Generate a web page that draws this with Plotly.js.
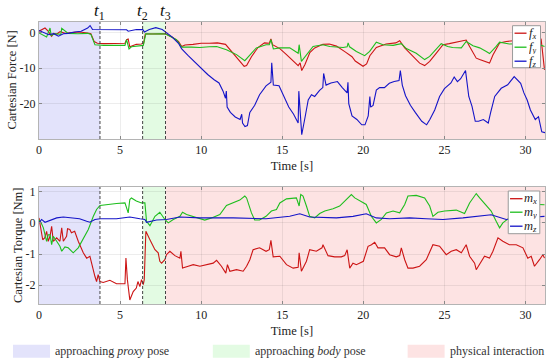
<!DOCTYPE html>
<html><head><meta charset="utf-8">
<script src="https://cdn.plot.ly/plotly-3.0.1.min.js"></script>
<style>html,body{margin:0;padding:0;background:#fff}</style>
</head><body><div id="chart" style="width:551px;height:363px"></div>
<script>
// ---------- data ----------
const timeTicks = [0, 5, 10, 15, 20, 25, 30];
const timeTickText = ['0', '5', '10', '15', '20', '25', '30'];
const forceTicks = [-20, -10, 0];
const forceTickText = ['-20', '-10', '0'];
const torqueTicks = [-2, -1, 0, 1];
const torqueTickText = ['-2', '-1', '0', '1'];
const yTitles = ['Cartesian Force [N]', 'Cartesian Torque [Nm]'];

const eventTimes = [3.76, 6.39, 7.8];
const eventLabels = ['<i>t</i><sub>1</sub>', '<i>t</i><sub>2</sub>', '<i>t</i><sub>3</sub>'];

const phaseStart = [0, 6.39, 7.8];
const phaseEnd = [3.76, 7.8, 31.2];
const phaseLabels = ['approaching <i>proxy</i> pose', 'approaching <i>body</i> pose', 'physical interaction'];

const forceNames = ['<i>f<sub>x</sub></i>', '<i>f<sub>y</sub></i>', '<i>f<sub>z</sub></i>'];
const torqueNames = ['<i>m<sub>x</sub></i>', '<i>m<sub>y</sub></i>', '<i>m<sub>z</sub></i>'];

const fxT = [0,0.2,0.37,0.55,0.78,0.9,1.1,1.3,1.6,2.0,2.5,3.0,3.2,3.4,3.6,4.0,4.5,5.0,5.3,5.4,5.5,5.6,5.8,6.0,6.3,6.45,6.55,7.0,7.5,7.8,8.2,8.6,8.8,9.0,9.5,10.0,10.5,11.0,11.5,11.9,12.3,12.65,12.8,13.1,13.5,13.9,14.2,14.3,14.4,14.85,15.26,15.67,15.98,16.1,16.2,16.4,16.7,17.0,17.3,17.5,17.9,18.34,18.9,19.3,19.5,19.98,20.2,20.4,20.8,21.4,22.0,22.24,22.55,23.06,23.47,23.78,24.09,24.5,24.91,25.3,25.73,26.14,26.34,26.55,26.76,26.96,27.17,27.78,27.99,28.4,28.81,29.42,30.04,30.66,30.96,31.17];
const fxV = [0.4,0.8,1.3,0.5,-1.0,-0.2,-0.4,0.3,-0.2,0.0,0.2,-0.1,-0.3,-2.5,-3.0,-3.1,-3.0,-3.1,-3.0,-2.0,-1.8,-4.0,-3.6,-3.3,-3.2,-3.0,-0.4,-0.3,-0.4,-0.3,-1.2,-2.5,-3.9,-3.5,-3.3,-3.0,-3.0,-2.9,-3.3,-5.5,-7.5,-9.5,-9.3,-6.8,-4.2,-2.9,-3.0,-1.8,-3.4,-4.5,-6.2,-8.1,-9.3,-8.5,-10.7,-9.0,-5.6,-4.3,-3.8,-3.3,-3.2,-3.8,-5.5,-6.8,-8.0,-9.5,-8.8,-6.5,-4.2,-3.2,-2.9,-2.3,-4.3,-6.7,-8.6,-9.3,-8.1,-5.8,-3.4,-3.1,-2.7,-2.5,-2.1,-3.9,-5.8,-7.2,-7.6,-8.6,-6.3,-2.9,-2.5,-2.2,-1.5,-1.0,-1.8,-10.5];

const fyT = [0,0.25,0.47,0.68,0.75,1.0,1.35,1.4,1.8,2.4,3.0,3.2,3.45,4.0,4.5,5.0,5.3,5.4,5.55,5.7,6.0,6.43,6.59,7.0,7.5,7.8,8.48,8.79,9.4,9.92,10.5,10.95,11.56,12.18,12.69,13.0,13.4,14.0,14.2,14.3,14.45,14.85,15.46,15.98,16.04,16.18,16.49,16.9,17.5,17.93,18.75,19.0,19.06,19.15,19.57,20.08,20.39,20.8,21.21,21.83,22.34,22.65,23.26,23.78,24.09,24.5,24.8,25.2,25.5,26.04,26.34,26.76,27.17,27.58,27.78,28.19,28.4,29.0,29.8,30.45,31.17];
const fyV = [-0.1,-0.8,-1.2,1.3,-0.8,-0.3,-0.5,1.2,-0.2,-0.3,-0.2,-0.5,-3.4,-3.6,-3.6,-3.5,-3.6,-2.0,-4.6,-4.0,-3.8,-3.6,-0.3,-0.4,-0.3,-0.4,-2.0,-4.1,-4.1,-4.2,-4.0,-3.9,-4.8,-6.2,-7.9,-6.2,-4.3,-3.4,-3.4,-2.0,-4.6,-4.3,-4.3,-5.8,-3.4,-8.1,-6.2,-3.9,-3.4,-3.9,-4.2,-4.0,-2.9,-4.0,-5.3,-6.5,-5.3,-2.7,-3.4,-3.6,-3.1,-4.5,-5.8,-7.6,-6.7,-4.7,-3.1,-3.9,-4.2,-4.3,-2.5,-3.7,-4.3,-5.3,-5.9,-3.9,-2.7,-3.2,-3.1,-2.7,-3.9];

const fzT = [0,0.3,0.6,0.9,1.2,1.5,1.8,2.2,2.6,3.0,3.15,3.3,4.0,5.0,5.4,5.5,6.0,6.4,6.5,6.8,7.2,7.6,7.85,8.2,8.6,8.8,9.2,9.6,10.0,10.4,10.8,11.1,11.35,11.5,11.55,11.6,11.8,12.1,12.4,12.5,12.55,12.7,12.85,13.0,13.3,13.6,14.0,14.3,14.35,14.45,14.8,15.1,15.4,15.7,15.98,16.02,16.2,16.4,16.6,16.8,17.0,17.3,17.5,17.55,17.7,18.0,18.4,18.7,19.0,19.05,19.1,19.3,19.6,19.9,20.1,20.3,20.4,20.45,20.6,20.8,21.0,21.3,21.6,21.9,22.2,22.28,22.4,22.6,22.9,23.2,23.6,23.9,24.1,24.4,24.7,25.0,25.4,25.6,25.8,26.0,26.3,26.5,26.7,26.9,27.1,27.4,27.7,27.85,28.1,28.5,28.9,29.3,29.5,29.7,29.9,30.1,30.3,30.6,30.8,31.0,31.2];
const fzV = [0.6,0.1,-0.6,-0.3,-1.0,-0.3,-0.2,0.2,0.4,1.3,2.0,0.9,0.9,0.85,0.8,0.4,0.9,0.85,0.2,0.9,1.4,0.9,0.0,-1.2,-3.0,-4.6,-6.5,-8.3,-10.0,-11.8,-13.3,-14.2,-16.5,-18.5,-16.5,-21.0,-22.5,-23.8,-24.5,-23.0,-25.5,-26.5,-26.2,-22.5,-20.5,-17.5,-15.0,-14.0,-8.5,-14.8,-15.0,-18.0,-21.0,-23.0,-25.5,-16.5,-28.8,-24.0,-19.0,-17.5,-18.0,-16.3,-15.5,-11.5,-14.8,-14.2,-13.8,-15.5,-17.0,-14.0,-20.0,-23.5,-24.5,-26.0,-26.0,-23.5,-18.0,-21.0,-20.5,-16.2,-15.5,-15.5,-14.3,-13.8,-13.5,-10.7,-14.8,-17.8,-20.5,-22.5,-25.0,-26.0,-24.5,-21.8,-18.0,-15.8,-14.2,-12.5,-13.8,-13.0,-10.7,-18.0,-20.8,-25.0,-25.0,-24.5,-25.5,-22.5,-18.0,-15.7,-14.7,-12.4,-13.3,-14.3,-17.0,-19.0,-21.8,-24.5,-23.7,-28.0,-28.2];

const mxT = [0,0.23,0.35,0.47,0.57,0.68,0.78,0.88,1.09,1.29,1.4,1.5,1.7,1.76,1.9,2.0,2.2,2.42,2.73,2.94,3.14,3.3,3.45,3.55,3.65,3.76,3.96,4.37,4.78,5.3,5.36,5.45,5.6,5.81,6.0,6.1,6.22,6.32,6.43,6.49,6.59,6.84,7.15,7.35,7.45,7.56,7.76,7.86,8.07,8.38,8.69,8.75,8.85,9.2,9.51,9.92,10.33,10.74,10.95,11.25,11.52,11.62,11.77,12.18,12.59,12.8,13.0,13.2,13.6,14.0,14.2,14.3,14.44,14.85,15.26,15.67,15.98,16.04,16.18,16.49,16.69,17.1,17.45,17.51,17.82,18.23,18.64,18.85,19.0,19.16,19.36,19.57,20.0,20.29,20.5,20.7,20.9,21.31,21.62,22.03,22.24,22.34,22.55,22.75,23.06,23.47,23.88,24.29,24.7,25.11,25.42,25.73,26.04,26.34,26.55,26.86,26.96,27.17,27.47,27.78,27.99,28.3,28.6,29.0,29.43,29.84,30.14,30.35,30.55,30.86,31.07,31.17];
const mxV = [0.16,-0.54,-0.48,-0.27,-0.59,-0.43,-0.11,-0.59,-0.48,-0.59,-0.16,-0.59,-0.43,-0.19,-0.21,-0.32,-0.27,-0.59,-0.96,-1.13,-1.07,-1.45,-1.72,-1.88,-1.66,-1.88,-1.91,-1.84,-1.95,-1.95,-1.13,-1.82,-2.47,-2.2,-2.09,-1.88,-2.04,-1.82,-1.98,-1.82,-0.27,-0.54,-0.86,-0.96,-1.23,-1.29,-1.18,-1.02,-0.91,-1.05,-1.13,-0.91,-1.45,-1.39,-1.34,-1.39,-1.34,-1.29,-1.2,-1.39,-1.61,-1.34,-1.55,-1.5,-1.55,-1.39,-1.18,-0.86,-0.8,-0.91,-0.86,-0.56,-1.09,-1.07,-1.34,-1.45,-1.42,-0.96,-1.55,-1.23,-0.86,-0.91,-0.8,-0.7,-1.05,-1.09,-1.09,-1.05,-0.86,-1.45,-1.29,-1.34,-1.23,-0.75,-0.7,-0.62,-0.8,-0.8,-1.02,-1.09,-1.05,-0.8,-1.18,-1.45,-1.45,-1.39,-1.18,-0.7,-0.75,-1.02,-0.91,-0.86,-0.96,-0.7,-1.07,-1.29,-1.5,-1.34,-1.07,-1.13,-0.91,-0.48,-0.59,-0.7,-0.7,-0.8,-1.13,-1.07,-1.39,-1.18,-1.02,-1.13];

const myT = [0,0.13,0.27,0.47,0.57,0.68,0.78,0.88,1.09,1.29,1.4,1.6,1.8,2.11,2.42,2.73,3.04,3.35,3.55,3.76,4.17,4.78,5.3,5.4,5.5,5.6,5.7,6.0,6.32,6.53,6.63,6.84,7.15,7.45,7.76,7.97,8.28,8.69,8.85,9.1,9.5,9.92,10.22,10.64,11.15,11.56,11.97,12.38,12.69,12.8,13.1,13.3,13.6,14.0,14.33,14.64,14.85,15.26,15.87,16.04,16.14,16.28,16.49,16.69,17.0,17.31,17.62,18.13,18.54,18.85,19.06,19.26,19.47,19.77,20.18,20.49,20.8,21.11,21.42,21.83,22.24,22.55,22.75,23.26,23.78,24.09,24.29,24.6,25.01,25.73,26.24,26.55,26.86,26.96,27.17,27.58,27.88,28.19,28.4,28.6,29.0,29.3,29.8,30.3,30.8,31.17];
const myV = [0.1,0.0,-0.16,-0.59,-0.38,-0.38,-0.7,-0.43,-0.59,-0.75,-0.91,-0.77,-0.8,-0.96,-0.8,-0.48,-0.21,0.21,0.43,0.56,0.59,0.62,0.64,0.43,0.32,0.75,0.8,0.7,0.64,0.64,0.05,-0.09,0.21,0.34,0.11,0.0,0.11,0.21,0.34,0.27,0.21,0.16,0.09,0.16,0.27,0.56,0.64,0.73,0.86,0.8,0.32,0.09,0.09,0.21,0.38,0.43,0.64,0.77,0.8,0.54,0.91,0.86,0.54,0.21,0.16,0.3,0.38,0.45,0.54,0.7,0.8,0.91,0.8,0.7,0.59,0.21,0.0,0.11,0.32,0.38,0.32,0.59,0.86,0.88,0.8,0.54,0.21,0.34,0.38,0.41,0.3,0.64,0.88,0.94,0.8,0.54,0.38,0.05,-0.16,0.0,0.16,0.35,0.55,0.6,0.6,0.58];

const mzT = [0,0.16,0.37,0.68,1.09,1.5,1.9,2.5,2.94,3.14,3.45,3.76,4.78,5.6,6.22,6.53,6.63,7.25,7.86,8.69,9.92,11.97,14.0,14.85,15.46,16.08,16.69,18.34,19.36,20.18,20.8,21.62,22.85,23.88,24.91,26.14,27.17,27.88,28.81,29.5,30.3,31.17];
const mzV = [0.0,0.11,0.02,0.09,0.16,0.19,0.16,0.13,0.05,0.02,0.11,0.13,0.13,0.19,0.13,0.11,0.02,0.09,0.11,0.19,0.16,0.16,0.13,0.19,0.21,0.29,0.19,0.16,0.21,0.29,0.16,0.13,0.16,0.13,0.11,0.16,0.21,0.26,0.11,0.15,0.18,0.21];

// ---------- styles / geometry ----------
const RED = 'rgb(204,20,20)', GREEN = 'rgb(30,190,30)', BLUE = 'rgb(20,20,200)';
const seriesColors = [RED, GREEN, BLUE];
const phaseFill = ['rgb(227,227,251)', 'rgb(227,251,227)', 'rgb(253,227,227)'];
const FONT = '"Liberation Serif", "Times New Roman", serif';
const W = 551, H = 363;
const M = {l: 39, r: 5.5, t: 22.3, b: 58.7};
const PW = W - M.l - M.r, PH = H - M.t - M.b;
// pixel -> paper (paper = plotting area inside margins)
const px = v => (v - M.l) / PW, py = v => (H - M.b - v) / PH;

function tr(x, y, name, color, xa, ya) {
  return {x: x, y: y, name: name, type: 'scatter', mode: 'lines', showlegend: false,
          line: {color: color, width: 1.1}, xaxis: xa, yaxis: ya};
}
const data = [
  tr(fxT, fxV, forceNames[0], RED, 'x', 'y'),
  tr(fyT, fyV, forceNames[1], GREEN, 'x', 'y'),
  tr(fzT, fzV, forceNames[2], BLUE, 'x', 'y'),
  tr(mxT, mxV, torqueNames[0], RED, 'x2', 'y2'),
  tr(myT, myV, torqueNames[1], GREEN, 'x2', 'y2'),
  tr(mzT, mzV, torqueNames[2], BLUE, 'x2', 'y2')
];

const xCommon = {
  domain: [0, 1], range: [0, 31.2], tickvals: timeTicks, ticktext: timeTickText,
  ticks: 'inside', ticklen: 3, tickcolor: '#888', showline: true, linecolor: '#b4b4b4', linewidth: 1,
  mirror: 'ticks', showgrid: true, gridcolor: 'rgba(0,0,0,0.07)', zeroline: false,
  tickfont: {size: 12, family: FONT, color: '#222'},
  title: {text: 'Time [s]', font: {size: 12.5, family: FONT, color: '#222'}, standoff: 4}
};
const yCommon = {
  ticks: 'inside', ticklen: 3, tickcolor: '#888', showline: true, linecolor: '#b4b4b4', linewidth: 1,
  mirror: 'ticks', showgrid: true, gridcolor: 'rgba(0,0,0,0.07)', zeroline: false,
  tickfont: {size: 12, family: FONT, color: '#222'}
};

const shapes = [];
const annotations = [];
[['x', 'y'], ['x2', 'y2']].forEach(([xa, ya]) => {
  for (let i = 0; i < phaseStart.length; i++) {
    shapes.push({type: 'rect', xref: xa, yref: ya + ' domain', x0: phaseStart[i], x1: phaseEnd[i],
                 y0: 0, y1: 1, fillcolor: phaseFill[i], line: {width: 0}, layer: 'below'});
  }
  eventTimes.forEach(t => shapes.push({type: 'line', xref: xa, yref: ya + ' domain', x0: t, x1: t,
      y0: 0, y1: 1, line: {color: '#444', width: 1, dash: '3px,2px'}, layer: 'above'}));
});

// y-axis titles (placed like the MATLAB original)
[['y', 11], ['y2', 17.5]].forEach(([ya, xPix], i) => annotations.push({
  x: px(xPix), xref: 'paper', xanchor: 'center', y: 0.5, yref: ya + ' domain', yanchor: 'middle',
  textangle: -90, showarrow: false, text: yTitles[i], font: {size: 12.5, family: FONT, color: '#222'}
}));

// in-plot legends (compact, MATLAB style)
function addLegend(names, left, top, right, bottom, rowsY, lineX0, lineX1, textX) {
  shapes.push({type: 'rect', xref: 'paper', yref: 'paper', x0: px(left), x1: px(right), y0: py(bottom), y1: py(top),
               fillcolor: '#fff', line: {color: '#9a9a9a', width: 1}, layer: 'above'});
  names.forEach((nm, i) => {
    shapes.push({type: 'line', xref: 'paper', yref: 'paper', x0: px(lineX0), x1: px(lineX1),
                 y0: py(rowsY[i]), y1: py(rowsY[i]), line: {color: seriesColors[i], width: 1.3}, layer: 'above'});
    annotations.push({x: px(textX), xref: 'paper', xanchor: 'left', y: py(rowsY[i]), yref: 'paper', yanchor: 'middle',
                      showarrow: false, text: nm, font: {size: 12.5, family: FONT, color: '#222'},
                      borderpad: 0, height: 13, valign: 'middle'});
  });
}
addLegend(forceNames, 513, 26, 541, 68, [33.5, 47.5, 61.5], 515, 527, 528.5);
addLegend(torqueNames, 508.7, 191.3, 540.3, 234, [199, 212.5, 226.5], 510.5, 523, 523.5);

// bottom legend for phases
const swatchX = [13, 213, 408];
phaseLabels.forEach((lab, i) => {
  shapes.push({type: 'rect', xref: 'paper', yref: 'paper', x0: px(swatchX[i]), x1: px(swatchX[i] + 37),
               y0: py(358), y1: py(345), fillcolor: phaseFill[i], line: {width: 0}});
  annotations.push({x: px(swatchX[i] + 40), xref: 'paper', xanchor: 'left', y: py(351.5), yref: 'paper', yanchor: 'middle',
    showarrow: false, text: lab, font: {size: 12, family: FONT, color: '#333'}});
});

eventTimes.forEach((t, i) => annotations.push({
  x: t, xref: 'x', y: py(12.5), yref: 'paper', yanchor: 'middle', xanchor: 'center', showarrow: false,
  text: eventLabels[i], font: {size: 17, family: FONT, color: '#111'}, borderpad: 0
}));

const layout = {
  width: W, height: H, margin: M, paper_bgcolor: '#fff', plot_bgcolor: '#fff',
  font: {family: FONT, color: '#222'}, showlegend: false,
  xaxis: Object.assign({}, xCommon, {anchor: 'y'}),
  xaxis2: Object.assign({}, xCommon, {anchor: 'y2'}),
  yaxis: Object.assign({}, yCommon, {domain: [py(139.3), py(22.3)], range: [-30, 3], anchor: 'x',
      tickvals: forceTicks, ticktext: forceTickText}),
  yaxis2: Object.assign({}, yCommon, {domain: [py(304.3), py(187.3)], range: [-2.6, 1.15], anchor: 'x2',
      tickvals: torqueTicks, ticktext: torqueTickText}),
  shapes: shapes, annotations: annotations
};

Plotly.newPlot('chart', data, layout, {staticPlot: true, displayModeBar: false});
</script></body></html>
